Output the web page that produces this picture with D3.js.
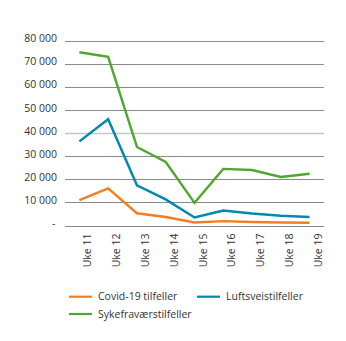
<!DOCTYPE html>
<html>
<head>
<meta charset="utf-8">
<script src="https://cdn.jsdelivr.net/npm/d3@7"></script>
<style>
    body { margin: 0; background: #fff; }
    text { font-family: "Open Sans", sans-serif; fill: #333; }
</style>
</head>
<body>
<div id="chart"></div>
<script>
const WIDTH = 346;
const HEIGHT = 341;

const weeks = ["Uke 11", "Uke 12", "Uke 13", "Uke 14", "Uke 15", "Uke 16", "Uke 17", "Uke 18", "Uke 19"];
const covid = [11000, 16100, 5300, 3700, 1300, 1900, 1500, 1300, 1200];
const luftvei = [36400, 46000, 17400, 11300, 3500, 6500, 5200, 4200, 3700];
const sykefravaer = [75000, 73000, 34000, 27500, 9800, 24500, 24000, 21000, 22400];
const yTicks = [0, 10000, 20000, 30000, 40000, 50000, 60000, 70000, 80000];

const seriesNames = ["Covid-19 tilfeller", "Luftsveistilfeller", "Sykefraværstilfeller"];
const seriesColors = ["#f47d20", "#0088b0", "#4ea72e"];
const series = [covid, luftvei, sykefravaer];

const plot = { left: 65, right: 324, top: 40.7, bottom: 225.5 };

const svg = d3.select("#chart").append("svg")
    .attr("width", WIDTH)
    .attr("height", HEIGHT);

const x = d3.scalePoint()
    .domain(weeks)
    .range([plot.left, plot.right])
    .padding(0.5);

const y = d3.scaleLinear()
    .domain([0, 80000])
    .range([plot.bottom, plot.top]);

const fmt = d3.formatLocale({ decimal: ",", thousands: " ", grouping: [3], currency: ["", ""] }).format(",");

// horizontal grid, 40 000 line is drawn lighter
svg.append("g").attr("class", "grid")
    .selectAll("line")
    .data(yTicks)
    .join("line")
    .attr("x1", plot.left)
    .attr("x2", plot.right)
    .attr("y1", d => Math.round(y(d)) + 0.5)
    .attr("y2", d => Math.round(y(d)) + 0.5)
    .attr("stroke", d => d === 40000 ? "#c6c6c6" : "#8a8a8a")
    .attr("stroke-width", d => d === 40000 ? 1.6 : 1);

// y labels
svg.append("g").attr("class", "y axis")
    .selectAll("text")
    .data(yTicks)
    .join("text")
    .attr("x", d => d === 0 ? 55.5 : 57)
    .attr("y", d => y(d))
    .attr("dy", "0.15em")
    .attr("text-anchor", "end")
    .style("font-size", "10.5px")
    .text(d => d === 0 ? "-" : fmt(d));

// x labels, rotated
svg.append("g").attr("class", "x axis")
    .selectAll("text")
    .data(weeks)
    .join("text")
    .attr("transform", d => "translate(" + x(d) + "," + plot.bottom + ") rotate(-90)")
    .attr("x", -8)
    .attr("y", 12)
    .attr("text-anchor", "end")
    .style("font-size", "10.5px")
    .text(d => d);

const line = d3.line()
    .x((d, i) => x(weeks[i]))
    .y(d => y(d));

svg.append("g").attr("class", "lines")
    .selectAll("path")
    .data(series)
    .join("path")
    .attr("d", line)
    .attr("fill", "none")
    .attr("stroke", (d, i) => seriesColors[i])
    .attr("stroke-width", 2.4)
    .attr("stroke-linejoin", "miter");

// legend
const legendPos = [[69, 296.7], [197, 296.7], [69, 314]];

const legend = svg.append("g").attr("class", "legend")
    .selectAll("g")
    .data(seriesNames)
    .join("g")
    .attr("transform", (d, i) => "translate(" + legendPos[i][0] + "," + legendPos[i][1] + ")");

legend.append("line")
    .attr("x1", 0)
    .attr("x2", 23)
    .attr("stroke", (d, i) => seriesColors[i])
    .attr("stroke-width", 2.2);

legend.append("text")
    .attr("x", 29)
    .attr("dy", "0.35em")
    .style("font-size", "10.5px")
    .text(d => d);
</script>
</body>
</html>
